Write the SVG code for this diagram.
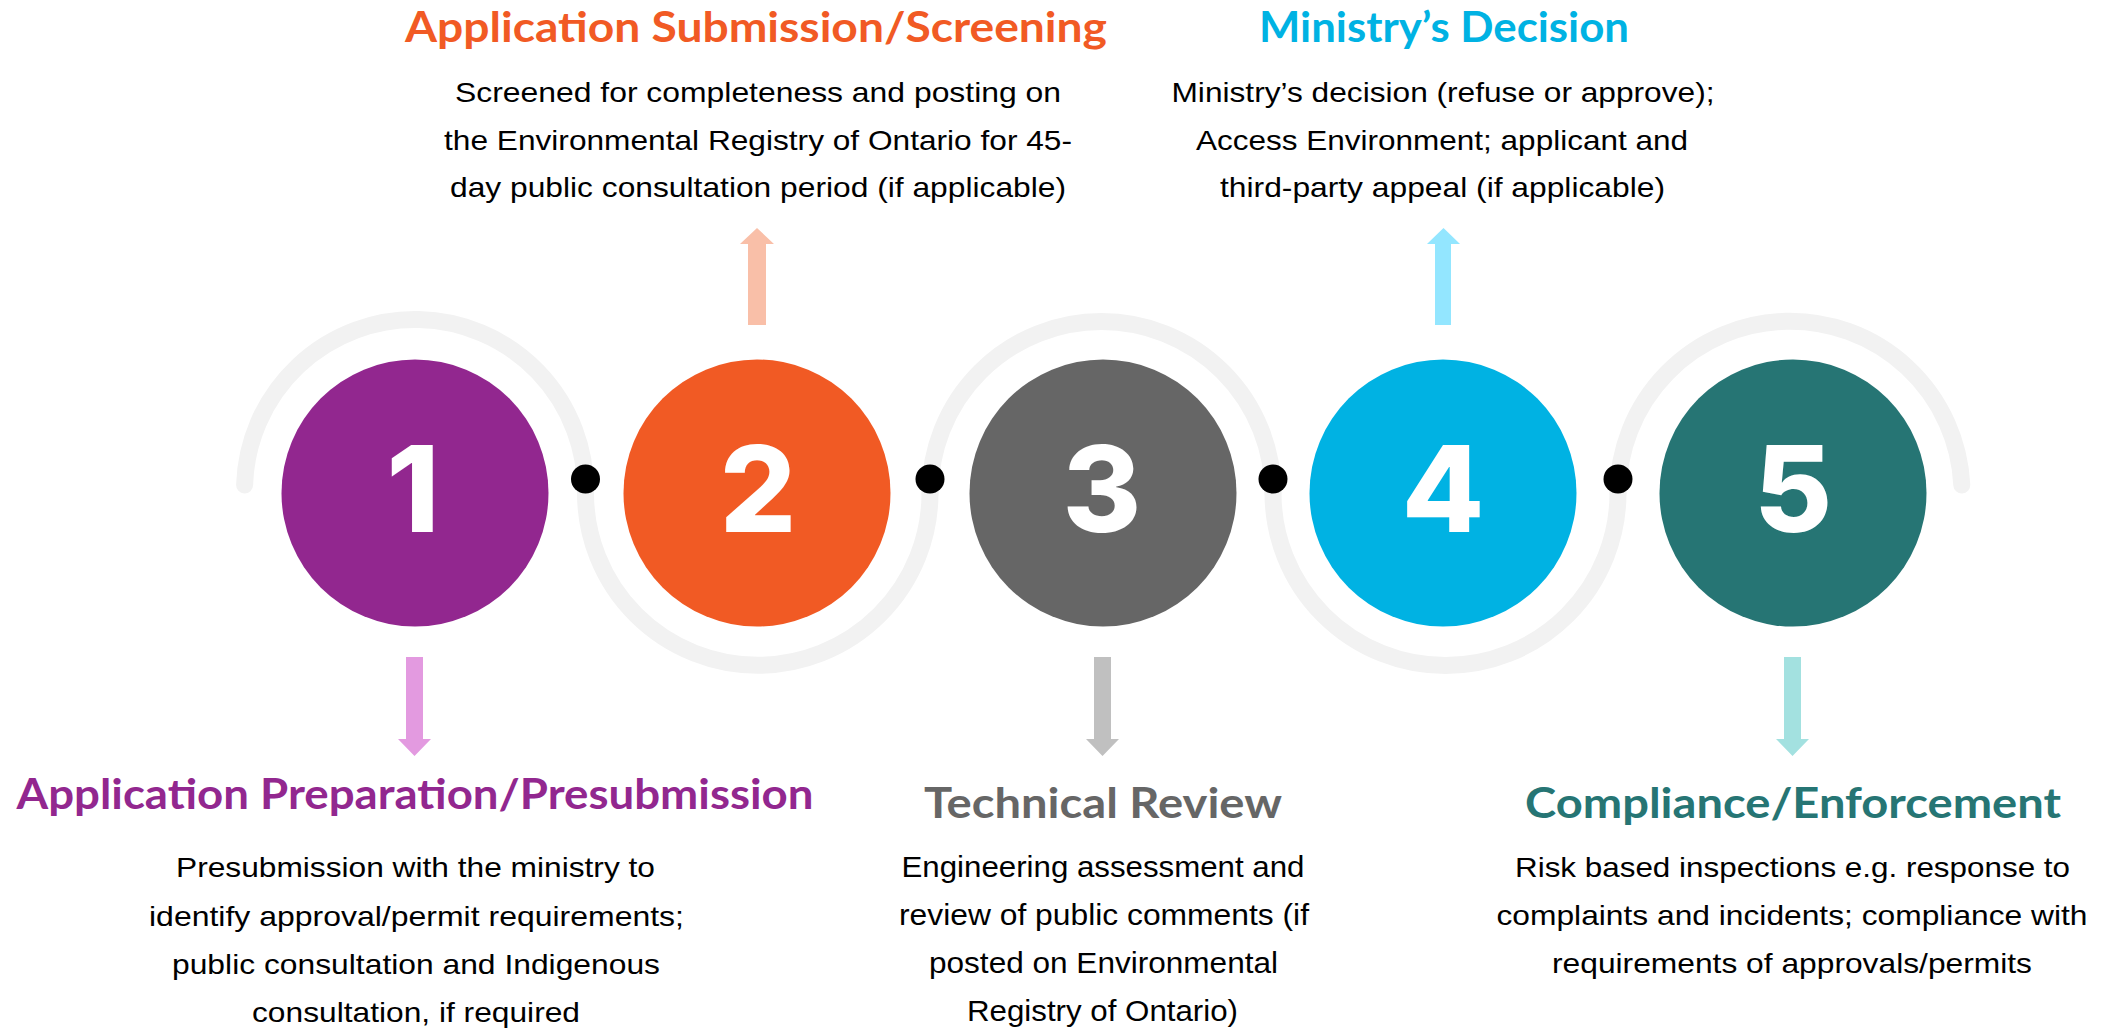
<svg xmlns="http://www.w3.org/2000/svg" width="2110" height="1028" viewBox="0 0 2110 1028">
<style>
.arc{fill:none;stroke:#f2f2f2;stroke-width:17;stroke-linecap:round}
.dot{fill:#000}
.num{font-family:Inter,'Open Sans','Liberation Sans',sans-serif;font-weight:800;font-size:120px;fill:#fff;text-anchor:middle}
.title{font-family:Lato,'Liberation Sans',sans-serif;font-weight:700;font-size:42px;text-anchor:middle}
.body{font-family:'Liberation Sans Narrow','Liberation Sans',Arial,sans-serif;font-size:28px;fill:#000;text-anchor:middle}
.body2{font-family:'Liberation Sans',Arial,sans-serif;font-size:30px;fill:#000;text-anchor:middle}
</style>
<rect width="2110" height="1028" fill="#fff"/>
<g id="connectors">
<path class="arc" d="M 244.6 485 A 170.5 170.5 0 0 1 585.5 493"/>
<path class="arc" d="M 585.5 493 A 172.25 172.25 0 0 0 930 493"/>
<path class="arc" d="M 930 493 A 171.5 171.5 0 0 1 1273 493"/>
<path class="arc" d="M 1273 493 A 172.5 172.5 0 0 0 1618 493"/>
<path class="arc" d="M 1618 493 A 172 172 0 0 1 1961.8 485"/>
<circle class="dot" cx="585.5" cy="479" r="14.5"/>
<circle class="dot" cx="930" cy="479" r="14.5"/>
<circle class="dot" cx="1273" cy="479" r="14.5"/>
<circle class="dot" cx="1618" cy="479" r="14.5"/>
</g>
<g id="step1">
<circle cx="415" cy="493" r="133.5" fill="#92278f"/>
<text class="num" x="413" y="532">1</text>
<polygon points="406,657 423,657 423,739 431,739 414.5,756 398,739 406,739" fill="#e39ae0"/>
<text class="title" x="415" y="809" fill="#92278f" textLength="797" lengthAdjust="spacingAndGlyphs">Application Preparation/Presubmission</text>
<text class="body" x="415.5" y="877" textLength="479" lengthAdjust="spacingAndGlyphs">Presubmission with the ministry to</text>
<text class="body" x="416.5" y="925.5" textLength="535" lengthAdjust="spacingAndGlyphs">identify approval/permit requirements;</text>
<text class="body" x="416" y="973.5" textLength="488" lengthAdjust="spacingAndGlyphs">public consultation and Indigenous</text>
<text class="body" x="416" y="1021.5" textLength="328" lengthAdjust="spacingAndGlyphs">consultation, if required</text>
</g>
<g id="step2">
<circle cx="757" cy="493" r="133.5" fill="#f15a24"/>
<text class="num" x="758" y="532">2</text>
<polygon points="748,325 766,325 766,244 774,244 757,228 740,244 748,244" fill="#f9bfa8"/>
<text class="title" x="756" y="42" fill="#f15a24" textLength="702" lengthAdjust="spacingAndGlyphs">Application Submission/Screening</text>
<text class="body" x="758" y="102" textLength="606" lengthAdjust="spacingAndGlyphs">Screened for completeness and posting on</text>
<text class="body" x="758" y="149.5" textLength="628" lengthAdjust="spacingAndGlyphs">the Environmental Registry of Ontario for 45-</text>
<text class="body" x="758" y="197" textLength="616" lengthAdjust="spacingAndGlyphs">day public consultation period (if applicable)</text>
</g>
<g id="step3">
<circle cx="1103" cy="493" r="133.5" fill="#666666"/>
<text class="num" x="1102" y="532">3</text>
<polygon points="1094,657 1111,657 1111,739 1119,739 1102.5,756 1086,739 1094,739" fill="#c0c0c0"/>
<text class="title" x="1103" y="818" fill="#666666" textLength="358" lengthAdjust="spacingAndGlyphs">Technical Review</text>
<text class="body2" x="1103" y="877" textLength="403" lengthAdjust="spacingAndGlyphs">Engineering assessment and</text>
<text class="body2" x="1104" y="925" textLength="410" lengthAdjust="spacingAndGlyphs">review of public comments (if</text>
<text class="body2" x="1103.5" y="973" textLength="349" lengthAdjust="spacingAndGlyphs">posted on Environmental</text>
<text class="body2" x="1102.5" y="1021" textLength="271" lengthAdjust="spacingAndGlyphs">Registry of Ontario)</text>
</g>
<g id="step4">
<circle cx="1443" cy="493" r="133.5" fill="#00b2e3"/>
<text class="num" x="1443" y="532">4</text>
<polygon points="1435,325 1451,325 1451,244 1460,244 1443.5,228 1427,244 1435,244" fill="#93e6ff"/>
<text class="title" x="1444" y="42" fill="#00b2e3" textLength="370" lengthAdjust="spacingAndGlyphs">Ministry’s Decision</text>
<text class="body" x="1443" y="102" textLength="543" lengthAdjust="spacingAndGlyphs">Ministry’s decision (refuse or approve);</text>
<text class="body" x="1442" y="149.5" textLength="492" lengthAdjust="spacingAndGlyphs">Access Environment; applicant and</text>
<text class="body" x="1442.5" y="197" textLength="445" lengthAdjust="spacingAndGlyphs">third-party appeal (if applicable)</text>
</g>
<g id="step5">
<circle cx="1793" cy="493" r="133.5" fill="#267574"/>
<text class="num" x="1793" y="532">5</text>
<polygon points="1784,657 1801,657 1801,739 1809,739 1792.5,756 1776,739 1784,739" fill="#a3e1e0"/>
<text class="title" x="1793" y="818" fill="#267574" textLength="536" lengthAdjust="spacingAndGlyphs">Compliance/Enforcement</text>
<text class="body" x="1792.5" y="877" textLength="555" lengthAdjust="spacingAndGlyphs">Risk based inspections e.g. response to</text>
<text class="body" x="1792" y="925" textLength="591" lengthAdjust="spacingAndGlyphs">complaints and incidents; compliance with</text>
<text class="body" x="1792" y="973" textLength="480" lengthAdjust="spacingAndGlyphs">requirements of approvals/permits</text>
</g>
</svg>
